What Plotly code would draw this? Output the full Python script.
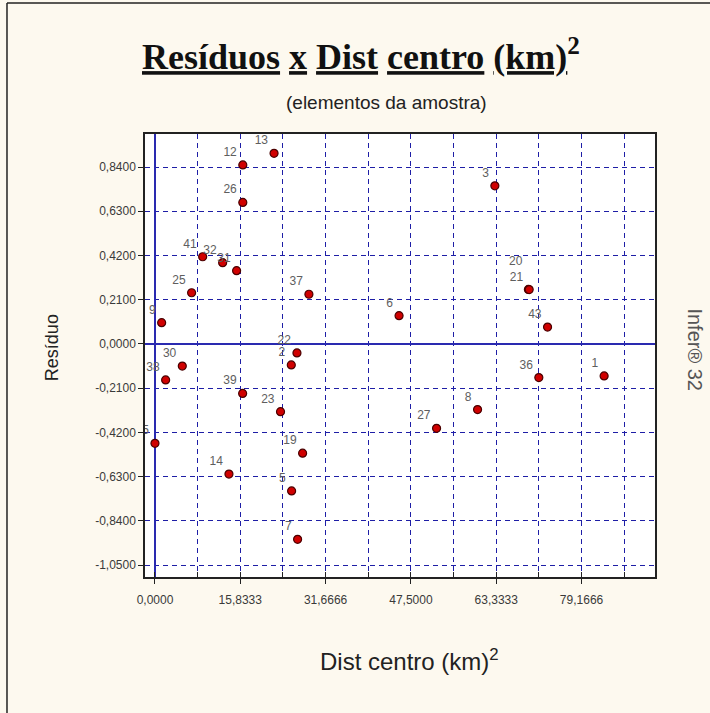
import plotly.graph_objects as go

# amostra: numero do elemento, distancia ao centro (km)^2, residuo
ELEMENTOS = ['1', '3', '5', '6', '7', '8', '9', '12', '13', '14', '15', '19',
             '20<br> ', '21', '2', '22', '23', '25', '26', '27', '30', '31', '32',
             '36', '37', '38', '39', '41', '43']
DIST_CENTRO = [83.36, 63.08, 25.36, 45.30, 26.47, 59.87, 1.24, 16.30, 22.10, 13.73,
               0.00, 27.40, 69.30, 69.45, 25.30, 26.35, 23.30, 6.80, 16.30, 52.26,
               5.07, 15.15, 12.56, 71.24, 28.57, 1.98, 16.27, 8.85, 72.86]
RESIDUO = [-0.152, 0.751, -0.698, 0.134, -0.928, -0.312, 0.101, 0.850, 0.905, -0.618,
           -0.472, -0.519, 0.259, 0.258, -0.100, -0.043, -0.322, 0.243, 0.672, -0.401,
           -0.105, 0.348, 0.386, -0.160, 0.236, -0.171, -0.235, 0.414, 0.080]

X_TICKS = [0.0, 15.8333, 31.6666, 47.5, 63.3333, 79.1666]
X_TICKTEXT = ['0,0000', '15,8333', '31,6666', '47,5000', '63,3333', '79,1666']
Y_TICKS = [0.84, 0.63, 0.42, 0.21, 0.0, -0.21, -0.42, -0.63, -0.84, -1.05]
Y_TICKTEXT = ['0,8400', '0,6300', '0,4200', '0,2100', '0,0000',
              '-0,2100', '-0,4200', '-0,6300', '-0,8400', '-1,0500']

BG = '#FDF9EF'
GRID = '#1E1EA6'
SANS = 'Liberation Sans, Arial'


def u(word):
    return f"<span style='text-decoration:underline'>{word}</span>"


fig = go.Figure()
fig.add_trace(go.Scatter(
    x=DIST_CENTRO,
    y=RESIDUO,
    mode='markers+text',
    text=ELEMENTOS,
    textposition='top left',
    textfont=dict(family=SANS, size=12, color='#5E5E5E'),
    cliponaxis=True,
    marker=dict(symbol='circle', size=8, color='#D00000',
                line=dict(color='#4A0000', width=1.2)),
    hoverinfo='skip',
    showlegend=False,
))

axis_common = dict(
    showline=True, mirror=True, linecolor='#222222', linewidth=1.5,
    showgrid=True, gridcolor=GRID, gridwidth=1.2, griddash='5px,4px',
    zeroline=True, zerolinecolor='#2A2AB0', zerolinewidth=1.6,
    tickfont=dict(family=SANS, size=12, color='#3A3A3A'),
    ticks='outside', ticklen=5, tickcolor='#222222',
)

fig.update_layout(
    width=710, height=713,
    margin=dict(l=145, r=55, t=134, b=136),
    paper_bgcolor=BG,
    plot_bgcolor='white',
    xaxis=dict(range=[-1.85, 92.8], tickvals=X_TICKS, ticktext=X_TICKTEXT,
               ticklabelstandoff=6,
               minor=dict(dtick=7.91666, tick0=0, showgrid=True, gridcolor=GRID,
                          gridwidth=1.2, griddash='5px,4px',
                          ticks='inside', ticklen=5, tickcolor='#222222'),
               **axis_common),
    yaxis=dict(range=[-1.107, 0.997], tickvals=Y_TICKS, ticktext=Y_TICKTEXT,
               **axis_common),
    annotations=[
        dict(text='<b>' + ' '.join(u(w) for w in ['Resíduos', 'x', 'Dist', 'centro', '(km)'])
             + '<sup>2</sup></b>',
             x=0.4235, y=1.18, xref='paper', yref='paper', showarrow=False,
             font=dict(family='Liberation Serif, Times New Roman', size=36, color='#111111'),
             xanchor='center', yanchor='middle'),
        dict(text='(elementos da amostra)', x=0.4745, y=1.072, xref='paper', yref='paper',
             showarrow=False, font=dict(family=SANS, size=19, color='#222222'),
             xanchor='center', yanchor='middle'),
        dict(text='Resíduo', x=-0.182, y=0.517, xref='paper', yref='paper',
             showarrow=False, textangle=-90, font=dict(family=SANS, size=18, color='#222222'),
             xanchor='center', yanchor='middle'),
        dict(text='Dist centro (km)<sup>2</sup>', x=0.5196, y=-0.187, xref='paper', yref='paper',
             showarrow=False, font=dict(family=SANS, size=24, color='#222222'),
             xanchor='center', yanchor='middle'),
        dict(text='Infer® 32', x=1.078, y=0.512, xref='paper', yref='paper',
             showarrow=False, textangle=90, font=dict(family=SANS, size=20, color='#555555'),
             xanchor='center', yanchor='middle'),
    ],
    shapes=[
        dict(type='line', xref='paper', yref='paper', x0=-0.2706, x1=-0.2706, y0=-0.31, y1=1.2957,
             line=dict(color='#222222', width=1.5)),
        dict(type='line', xref='paper', yref='paper', x0=-0.2706, x1=1.11, y0=1.2957, y1=1.2957,
             line=dict(color='#222222', width=1.5)),
    ],
)

# remove the default 8px page margin so the figure starts at the window corner
fig.write_html('out.html', config={'displayModeBar': False},
               post_script="document.body.style.margin='0';")
